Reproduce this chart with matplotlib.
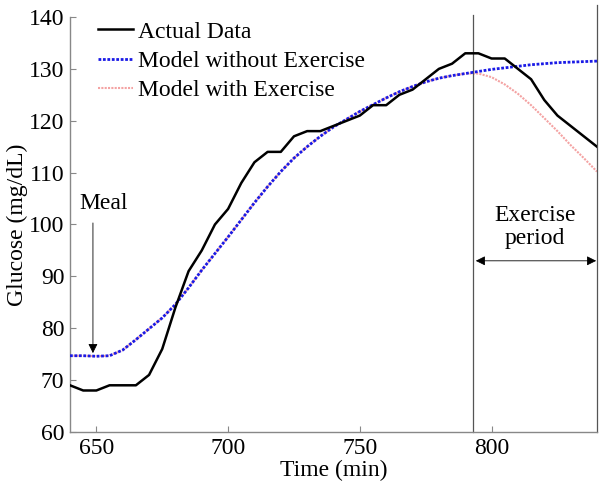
import matplotlib
matplotlib.use('Agg')
import matplotlib.pyplot as plt

# Datos (rejilla de 5 min)
time = list(range(640, 845, 5))
actual = [69, 68, 68, 69, 69, 69, 71, 76, 84, 91, 95, 100, 103, 108, 112, 114, 114,
          117, 118, 118, 119, 120, 121, 123, 123, 125, 126, 128, 130, 131, 133, 133,
          132, 132, 130, 128, 124, 121, 119, 117, 115]
model_no_ex = [74.7, 74.7, 74.6, 74.7, 75.8, 77.8, 79.9, 82.0, 84.6, 87.8, 91.2, 94.4,
               97.6, 100.9, 104.2, 107.3, 110.2, 112.8, 115.0, 117.0, 118.8, 120.3,
               121.8, 123.1, 124.4, 125.6, 126.6, 127.5, 128.2, 128.7, 129.1, 129.5,
               129.9, 130.2, 130.5, 130.8, 131.0, 131.2, 131.3, 131.4, 131.5]
model_ex = model_no_ex[:31] + [129.1, 128.4, 127.0, 125.2, 123.0, 120.5, 118.0,
                               115.3, 112.8, 110.2]
exercise_start = 793
exercise_end = 840
meal_time = 648.7

plt.rcParams['font.family'] = ['Liberation Serif', 'DejaVu Serif']
plt.rcParams['font.size'] = 17

fig = plt.figure(figsize=(6.01, 4.90), dpi=100)
ax = fig.add_axes([0.1165, 0.1184, 0.8768, 0.8469])

ax.plot(time, model_ex, color='#f4a3a3', linestyle=(0, (1, 0.6)), linewidth=1.5,
        label='Model with Exercise', zorder=2)
ax.plot(time, model_no_ex, color='#1a1ae6', linestyle=(0, (1, 0.6)), linewidth=2.0,
        label='Model without Exercise', zorder=3)
ax.plot(time, actual, color='black', linewidth=1.8, label='Actual Data', zorder=4)

# Lineas del periodo de ejercicio
ax.plot([exercise_start, exercise_start], [60, 140.4], color='#555555', linewidth=0.9, clip_on=False)
ax.plot([exercise_end, exercise_end], [60, 142.3], color='#555555', linewidth=0.9, clip_on=False)

# Anotaciones
ax.annotate('', xy=(meal_time, 75.2), xytext=(meal_time, 100.3),
            arrowprops=dict(arrowstyle='-|>', color='black', lw=0.6, mutation_scale=14,
                            shrinkA=0, shrinkB=0))
ax.text(652.7, 104.1, 'Meal', ha='center', va='center')
ax.annotate('', xy=(exercise_end - 0.3, 93), xytext=(exercise_start + 1, 93),
            arrowprops=dict(arrowstyle='<|-|>', color='black', lw=0.6, mutation_scale=14,
                            shrinkA=0, shrinkB=0))
ax.text(816.5, 99.6, 'Exercise\nperiod', ha='center', va='center', linespacing=1.12)

ax.set_xlim(640, 840)
ax.set_ylim(60, 140)
ax.set_xticks([650, 700, 750, 800])
ax.set_yticks(range(60, 141, 10))
ax.set_xlabel('Time (min)', labelpad=1)
ax.set_ylabel('Glucose (mg/dL)', labelpad=1)

for side in ['top', 'right']:
    ax.spines[side].set_visible(False)
for side in ['left', 'bottom']:
    ax.spines[side].set_color('#888888')
    ax.spines[side].set_linewidth(1.0)
ax.tick_params(direction='in', length=4, color='#888888', pad=4)

handles, labels = ax.get_legend_handles_labels()
ax.legend(handles[::-1], labels[::-1], loc='upper left', bbox_to_anchor=(0.053, 0.99),
          frameon=False, borderpad=0, borderaxespad=0, handlelength=1.5,
          handletextpad=0.2, labelspacing=0.33)

fig.savefig('out.png', dpi=100)
